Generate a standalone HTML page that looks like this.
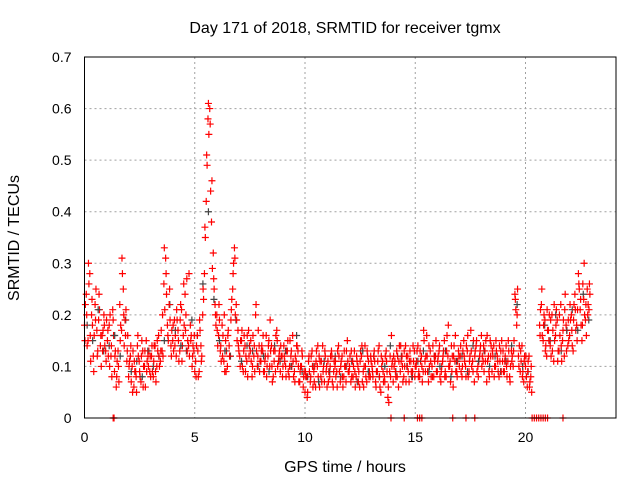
<!DOCTYPE html>
<html><head><meta charset="utf-8"><style>
html,body{margin:0;padding:0;background:#fff}
svg{display:block;font-family:"Liberation Sans",sans-serif}
</style></head><body>
<svg id="chart" width="640" height="480" viewBox="0 0 640 480"></svg>
<script>
// values in units of 0.01 TECU; series A at t=i*0.08 h, B at 0.04+i*0.08 h, C at 0.02+i*0.08 h
const redA=[18,24,15,28,20,12,22,17,19,14,16,20,13,
15,18,12,21,9,6,13,22,17,25,19,11,
8,12,10,6,9,14,11,7,13,10,15,12,9,
12,8,14,10,16,11,13,26,31,18,22,14,
15,19,12,17,13,21,16,24,27,14,18,10,13,
11,16,9,14,20,28,42,58,60,38,32,22,
20,16,13,18,11,15,10,14,19,25,33,22,17,
12,15,9,14,11,17,13,8,12,20,10,14,
11,13,9,16,12,10,14,8,13,17,11,9,12,
14,10,13,8,12,16,9,11,13,7,10,6,
5,8,11,7,13,9,6,10,12,8,14,7,9,
11,8,13,6,10,9,14,7,12,8,10,15,
9,7,11,13,8,10,6,12,9,14,7,11,8,
10,12,7,9,14,5,11,8,13,4,9,16,
7,11,13,6,9,12,8,14,10,7,11,9,13,
10,14,8,12,9,11,16,7,13,10,8,12,
9,13,7,11,15,8,12,10,14,6,11,9,13,
12,8,15,10,13,9,17,11,7,14,10,12,
16,11,13,7,12,15,9,14,10,12,8,13,11,
9,14,11,8,13,10,24,18,12,9,14,7,
10,6,12,8,null,null,null,null,18,22,15,19,12,
17,14,20,11,16,19,13,22,15,12,18,14,
16,20,13,24,18,28,21,15,23,19,25,21];
const redB=[22,14,26,11,18,16,25,13,21,10,17,14,19,
12,20,8,16,13,11,7,18,28,14,21,16,
11,7,13,9,5,12,8,15,10,6,11,13,8,
9,14,7,13,10,17,12,21,24,15,19,17,
13,16,19,11,22,14,18,20,15,12,16,14,9,
14,8,17,12,23,35,49,55,44,29,25,18,
14,19,11,16,9,13,17,12,23,30,20,15,13,
15,10,16,12,8,14,11,16,9,13,17,11,
14,9,12,10,15,13,7,11,16,10,13,12,10,
11,13,9,15,10,8,12,14,7,10,12,9,
8,5,9,12,6,10,13,8,11,7,10,12,6,
9,12,7,11,8,13,9,11,6,10,13,9,
12,8,10,6,11,9,13,7,10,8,12,9,11,
8,11,9,13,6,10,7,12,9,3,8,11,
10,8,12,14,11,7,10,12,9,13,8,11,10,
13,9,11,7,15,12,9,10,8,14,11,9,
12,8,10,13,9,16,10,7,12,14,9,11,10,
9,13,11,14,8,12,10,15,13,9,11,14,
12,9,15,11,8,14,12,10,13,9,11,15,9,
12,8,13,10,12,15,21,25,14,11,9,12,
8,11,7,5,null,null,null,null,21,16,20,14,17,
20,12,17,15,21,13,16,11,19,24,17,15,
19,14,22,17,21,25,18,26,20,16,22,24];
const redC=[15,20,30,16,23,9,19,12,24,16,13,18,11,
17,10,14,19,12,8,10,15,31,20,16,13,
10,14,5,11,8,16,9,12,6,13,9,10,12,
14,11,9,15,12,13,20,33,28,16,25,12,
18,14,21,15,19,11,26,17,13,28,15,12,16,
8,13,19,11,25,37,51,61,57,46,27,20,
17,22,14,12,20,9,16,12,21,28,31,19,14,
10,17,13,9,16,12,15,10,14,22,12,9,
13,16,11,8,14,19,10,13,9,15,12,14,8,
12,8,15,10,13,11,7,14,10,9,13,8,
9,4,12,8,10,7,11,14,6,11,9,13,10,
7,10,12,9,11,6,12,10,8,13,7,11,
10,13,8,9,12,7,11,14,6,10,13,8,12,
9,13,6,11,8,12,9,7,11,6,12,10,
12,9,8,11,14,10,13,7,12,11,9,14,8,
11,8,13,10,17,9,12,14,11,8,12,15,
11,14,9,12,8,13,18,11,9,12,16,8,12,
14,10,12,8,16,11,13,9,12,15,8,13,
10,14,11,16,9,12,13,8,15,11,14,9,13,
11,10,15,7,11,13,23,20,10,13,8,11,
12,9,6,10,null,null,null,null,16,25,18,13,21,
15,19,13,22,18,11,20,14,17,21,13,19,
22,17,19,21,15,26,23,18,30,22,20,26];
// dark series at t=0.12+i*0.25 h
const dark=[18,15,21,13,14,16,12,19,
9,11,8,13,10,12,15,22,
17,14,13,19,16,26,40,23,
15,13,12,19,11,14,13,10,
12,9,14,11,13,10,16,9,
8,10,7,11,9,12,8,10,
11,7,13,9,12,8,10,14,
9,12,10,8,11,13,9,12,
10,13,8,11,12,9,14,11,
13,10,12,9,11,14,22,10,
9,null,null,18,15,20,13,17,
21,17,24,19];
const zeroTimes=[1.3,1.34,13.9,14.5,15.1,15.2,15.3,16.7,17.3,17.7,20.3,20.4,20.5,20.6,20.7,20.8,20.9,21.0,21.7];
const xTicks=[0,5,10,15,20];
const yTicks=[0,0.1,0.2,0.3,0.4,0.5,0.6,0.7];
const yTickLabels=["0","0.1","0.2","0.3","0.4","0.5","0.6","0.7"];

const L=84.5,R=616,T=57,B=418;
const X=h=>L+h*22.05;
const Y=v=>B-(v/0.7)*(B-T);
const NS="http://www.w3.org/2000/svg";
const svg=document.getElementById('chart');
function mk(tag,attrs,parent){const e=document.createElementNS(NS,tag);for(const k in attrs)e.setAttribute(k,attrs[k]);(parent||svg).appendChild(e);return e;}

const grid=mk('g',{});


xTicks.forEach(t=>{if(t>0){const l=mk('line',{x1:X(t),x2:X(t),y1:T,y2:B,stroke:'#a0a0a0','stroke-dasharray':'2,3','stroke-width':1},grid);}});
yTicks.forEach(t=>{if(t>0&&t<0.7){const l=mk('line',{x1:L,x2:R,y1:Y(t),y2:Y(t),stroke:'#a0a0a0','stroke-dasharray':'2,3','stroke-width':1},grid);}});

const xt=mk('g',{'font-size':14,fill:'#000','text-anchor':'middle'});


xTicks.forEach(t=>{const e=mk('text',{x:X(t),y:B+24},xt);e.textContent=t;});
const yt=mk('g',{'font-size':14,fill:'#000','text-anchor':'end'});


yTicks.forEach((t,i)=>{const e=mk('text',{x:L-13,y:Y(t)+5},yt);e.textContent=yTickLabels[i];});

function plus(g,t,v,col,name){
  const x=X(t),y=Y(v);
  const p=mk('path',{d:`M${x-3.5},${y}h7M${x},${y-3.5}v7`,stroke:col,'stroke-width':1.2,fill:'none'},g);
  
  
}
const gB=mk('g',{});


redB.forEach((v,i)=>{if(v!==null)plus(gB,0.04+i*0.08,v/100,'#ff0000','point');});
const gD=mk('g',{});


dark.forEach((v,i)=>{if(v!==null)plus(gD,0.12+i*0.25,v/100,'#444444','point');});
const gC=mk('g',{});


redC.forEach((v,i)=>{if(v!==null)plus(gC,0.02+i*0.08,v/100,'#ff0000','point');});
const gA=mk('g',{});


redA.forEach((v,i)=>{if(v!==null)plus(gA,i*0.08,v/100,'#ff0000','point');});
const gZ=mk('g',{});


zeroTimes.forEach(t=>plus(gZ,t,0,'#ff0000','zero-point'));

const frame=mk('rect',{x:L,y:T,width:R-L,height:B-T,fill:'none',stroke:'#000','stroke-width':1});


</script>
<svg style="position:absolute;left:0;top:0" width="640" height="480">
<text x="345" y="33" font-family="Liberation Sans, sans-serif" font-size="16" text-anchor="middle">Day 171 of 2018, SRMTID for receiver tgmx</text>
<text x="345" y="472" font-family="Liberation Sans, sans-serif" font-size="16" text-anchor="middle">GPS time / hours</text>
<text x="0" y="0" transform="translate(19,238) rotate(-90)" font-family="Liberation Sans, sans-serif" font-size="16" text-anchor="middle">SRMTID / TECUs</text>
</svg>
</body></html>
